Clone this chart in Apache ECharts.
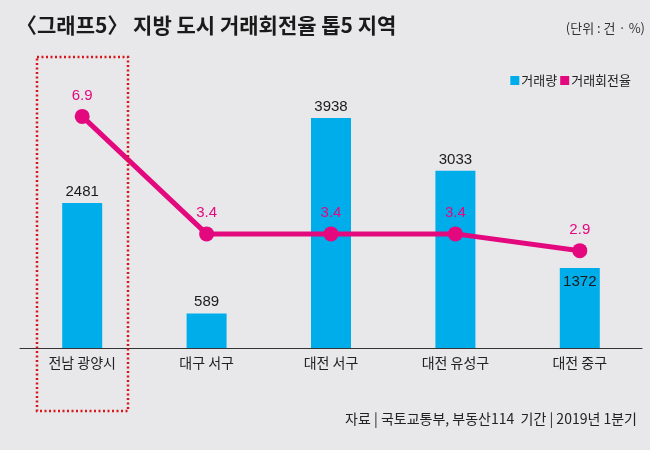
<!DOCTYPE html>
<html>
<head>
<meta charset="utf-8">
<script src="https://cdn.jsdelivr.net/npm/echarts@6/dist/echarts.min.js"></script>
<style>
  html, body { margin: 0; padding: 0; background: #e8e8ea; }
  #chart { width: 650px; height: 450px; }
</style>
</head>
<body>
<div id="chart"></div>
<script>
// 지역, 거래량(건), 거래회전율(%)
const regions = ['전남 광양시', '대구 서구', '대전 서구', '대전 유성구', '대전 중구'];
const volume = [2481, 589, 3938, 3033, 1372];
const turnover = [6.9, 3.4, 3.4, 3.4, 2.9];

const BLUE = '#00adeb';
const PINK = '#e4087f';
const FONT = "'Noto Sans CJK KR', sans-serif";
const NUM_FONT = "'Liberation Sans', 'Noto Sans CJK KR', sans-serif";

const chart = echarts.init(document.getElementById('chart'));

const option = {
    backgroundColor: '#e8e8ea',
    animation: false,
    textStyle: { fontFamily: FONT },
    grid: { left: 20, right: 8, top: 56, bottom: 102 },
    legend: {
        right: 14,
        top: 69,
        icon: 'rect',
        itemWidth: 9,
        itemHeight: 9,
        itemGap: 3,
        textStyle: { fontSize: 13, color: '#222', fontFamily: FONT, padding: [0, 0, 0, -3] },
        data: ['거래량', '거래회전율'],
    },
    xAxis: {
        type: 'category',
        data: regions,
        axisTick: { show: false },
        axisLine: { lineStyle: { color: '#333', width: 1 } },
        axisLabel: { fontSize: 14, color: '#222', margin: 8, fontFamily: FONT },
    },
    yAxis: [
        { type: 'value', min: 0, max: 5000, show: false, splitLine: { show: false } },
        { type: 'value', min: 0, max: 8.7, show: false, splitLine: { show: false } },
    ],
    series: [
        {
            name: '거래량',
            type: 'bar',
            data: volume.map((v, i) => ({
                value: v,
                label: i === 4 ? { position: 'insideTop', distance: 6 } : undefined,
            })),
            barWidth: 40,
            itemStyle: { color: BLUE },
            label: {
                show: true,
                position: 'top',
                distance: 4,
                fontSize: 15,
                color: '#1a1a1a',
                fontFamily: NUM_FONT,
            },
        },
        {
            name: '거래회전율',
            type: 'line',
            yAxisIndex: 1,
            data: turnover,
            symbol: 'circle',
            symbolSize: 15,
            lineStyle: { color: PINK, width: 5 },
            itemStyle: { color: PINK },
            label: {
                show: true,
                position: 'top',
                distance: 6,
                fontSize: 15,
                color: PINK,
                fontFamily: NUM_FONT,
                formatter: p => p.value.toFixed(1),
            },
        },
    ],
    graphic: [
        {
            type: 'text',
            left: 16,
            top: 15,
            style: {
                text: '〈그래프5〉 지방 도시 거래회전율 톱5 지역',
                font: "bold 21px 'Noto Sans CJK KR'",
                fill: '#1a1a1a',
            },
        },
        {
            type: 'text',
            right: 5,
            top: 22,
            style: {
                text: '(단위 : 건 · %)',
                font: "13px 'Noto Sans CJK KR'",
                fill: '#333',
            },
        },
        {
            type: 'text',
            right: 13,
            top: 412,
            style: {
                text: '자료 | 국토교통부, 부동산114  기간 | 2019년 1분기',
                font: "14px 'Noto Sans CJK KR'",
                fill: '#222',
            },
        },
        {
            type: 'rect',
            shape: { x: 37, y: 57, width: 91, height: 354 },
            style: { fill: 'none', stroke: '#d9151b', lineWidth: 2.5, lineDash: [2, 2.5] },
            z: 10,
        },
    ],
};

chart.setOption(option);
</script>
</body>
</html>
